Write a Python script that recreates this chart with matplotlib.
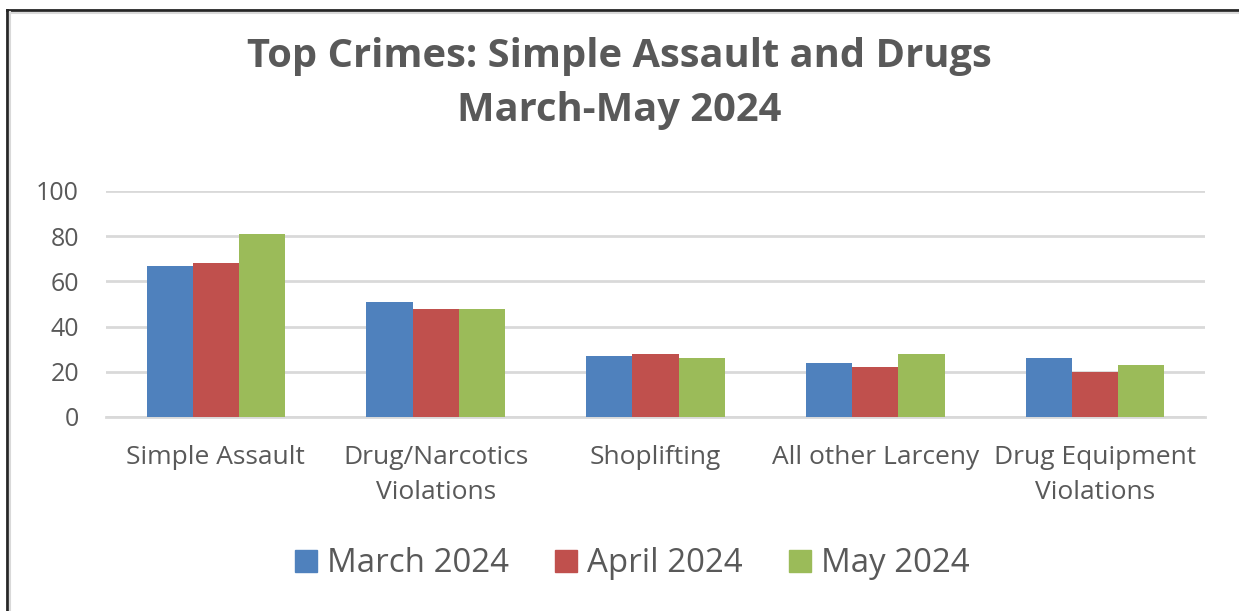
import matplotlib.pyplot as plt
import numpy as np
from matplotlib.patches import Rectangle
from matplotlib.lines import Line2D

# Data
categories = ['Simple Assault', 'Drug/Narcotics\nViolations', 'Shoplifting',
              'All other Larceny', 'Drug Equipment\nViolations']
months = ['March 2024', 'April 2024', 'May 2024']
march = [67, 51, 27, 24, 26]
april = [68, 48, 28, 22, 20]
may = [81, 48, 26, 28, 23]
colors = ['#4F81BD', '#C0504D', '#9BBB59']

W, H = 1239, 611
fig = plt.figure(figsize=(W / 100, H / 100), dpi=100)
plt.rcParams['font.family'] = ['Open Sans', 'DejaVu Sans']
text_color = '#595959'

# frame around the chart (left and top edges visible)
fig.add_artist(Line2D([7 / W, 7 / W], [0, 1 - 10 / H], color='#262626', lw=2))
fig.add_artist(Line2D([7 / W, 1], [1 - 10 / H, 1 - 10 / H], color='#262626', lw=2))
fig.add_artist(Line2D([10 / W, 10 / W], [0, 1 - 12 / H], color='#D9D9D9', lw=1.5))
fig.add_artist(Line2D([10 / W, 1], [1 - 12.5 / H, 1 - 12.5 / H], color='#D9D9D9', lw=1.5))

# plot area in pixel terms
left, right, top, bottom = 106, 1205, 191, 417
ax = fig.add_axes([left / W, 1 - bottom / H, (right - left) / W, (bottom - top) / H])

x = np.arange(len(categories))
bw = 0.21
for i, (vals, lab) in enumerate(zip([march, april, may], months)):
    ax.bar(x + (i - 1) * bw, vals, width=bw, color=colors[i], label=lab, zorder=3)

ax.set_xlim(-0.5, len(categories) - 0.5)
ax.set_ylim(0, 100)
ax.set_yticks(range(0, 101, 20))
ax.yaxis.grid(True, color='#D9D9D9', lw=2, zorder=0)
for s in ['top', 'right', 'left']:
    ax.spines[s].set_visible(False)
ax.spines['bottom'].set_color('#D9D9D9')
ax.spines['bottom'].set_linewidth(2)
ax.tick_params(length=0, colors=text_color)
ax.tick_params(axis='y', pad=19.5, labelsize=18)
ax.tick_params(axis='x', pad=20, labelsize=19)
ax.set_xticks(x)
ax.set_xticklabels(categories, linespacing=1.55)

fig.text(0.5, 1 - 57 / H, 'Top Crimes: Simple Assault and Drugs', ha='center', va='center',
         fontsize=28.7, fontweight='bold', color=text_color)
fig.text(0.5, 1 - 110 / H, 'March-May 2024', ha='center', va='center',
         fontsize=28.7, fontweight='bold', color=text_color)

handles = [Rectangle((0, 0), 1, 1, color=c) for c in colors]
fig.legend(handles, months, loc='center', bbox_to_anchor=(0.5 + 13 / W, 1 - 564 / H), ncol=3,
           frameon=False, fontsize=23.8, labelcolor=text_color, handlelength=0.67,
           handleheight=0.67, handletextpad=0.3, columnspacing=1.4)

fig.savefig('out.png', dpi=100, facecolor='white')
